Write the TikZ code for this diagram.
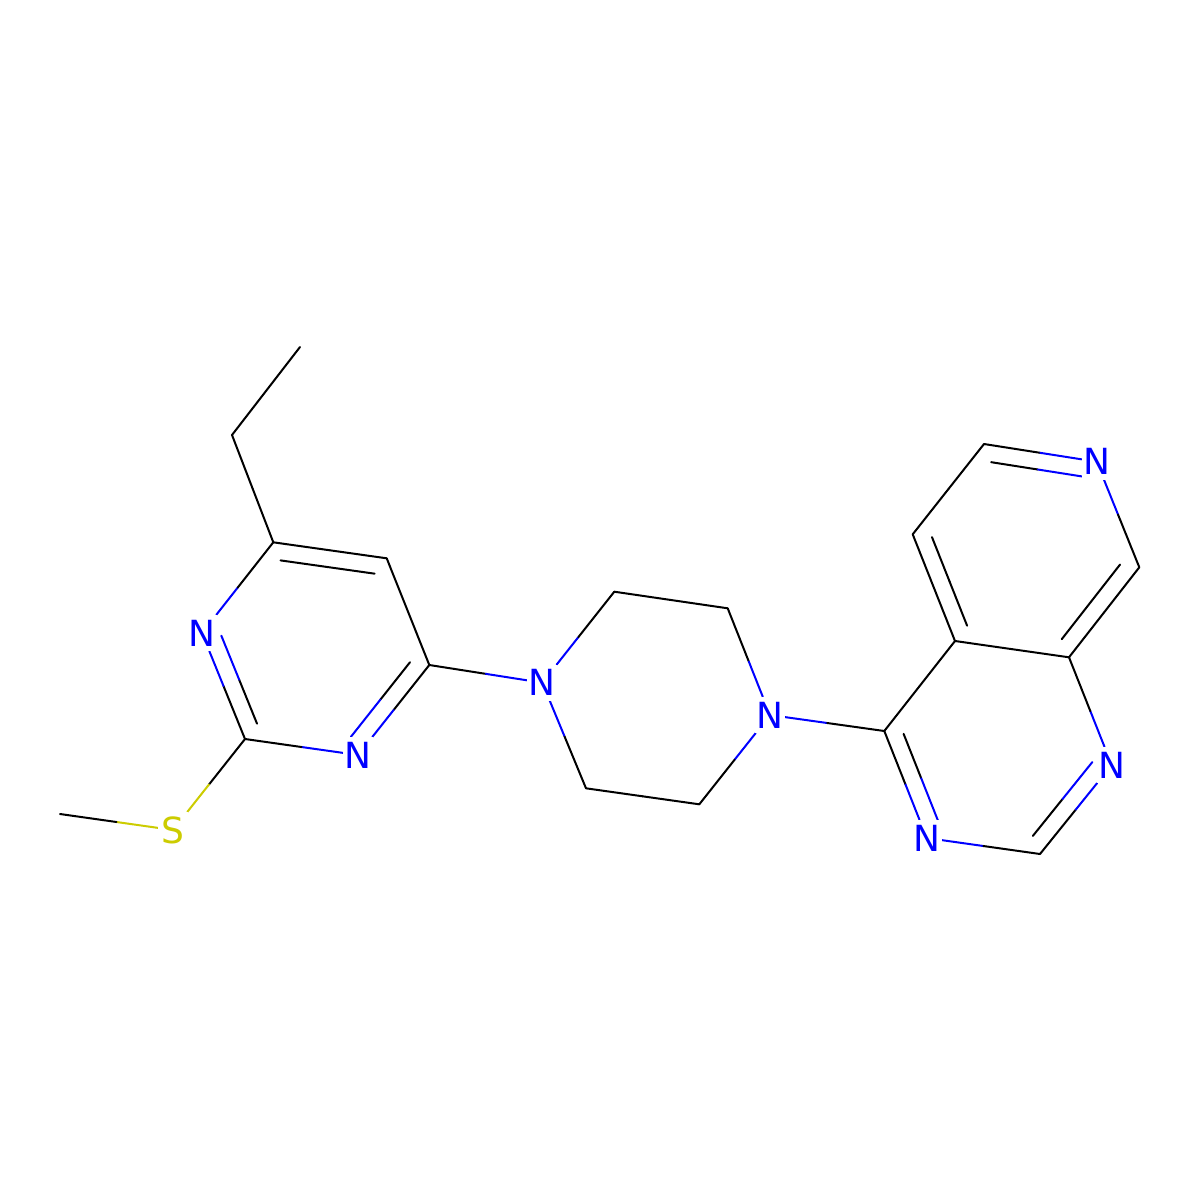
\documentclass[tikz,border=0pt]{standalone}
\usepackage{fontspec}
\setmainfont{DejaVu Sans}
\usetikzlibrary{calc}
\pgfdeclarelayer{bg}
\pgfsetlayers{bg,main}
\definecolor{nblue}{RGB}{0,0,255}
\definecolor{sylw}{RGB}{204,204,0}
\tikzset{
 atomlbl/.style={rectangle, fill=white, inner sep=0pt, minimum width=30pt, minimum height=36pt, font=\fontsize{36pt}{36pt}\selectfont},
 nlbl/.style={atomlbl, text=nblue},
 slbl/.style={atomlbl, text=sylw},
 bondln/.style={line width=2pt, line cap=round},
}
\newcommand\bnd[4]{%
 \draw[bondln,#2] (#1) -- ($(#1)!0.5!(#3)$);
 \draw[bondln,#4] ($(#1)!0.5!(#3)$) -- (#3);}
\newcommand\inb[5]{%
 \coordinate (ia) at ($(#1)!0.17!(#5)$);
 \coordinate (ib) at ($(#3)!0.17!(#5)$);
 \draw[bondln,#2] (ia) -- ($(ia)!0.5!(ib)$);
 \draw[bondln,#4] ($(ia)!0.5!(ib)$) -- (ib);}
\begin{document}
\begin{tikzpicture}[x=1pt,y=-1pt]
\useasboundingbox (0,0) rectangle (1200,1200);
% left pyrimidine
\coordinate (me1) at (300,347);
\coordinate (ch2) at (232,435);
\coordinate (a6) at (273.3,542.3);
\coordinate (a5) at (386.7,558.3);
\coordinate (a4) at (429.3,665);
\node[nlbl] (an3) at (358,755) {N};
\coordinate (a2) at (245,739);
\node[nlbl] (an1) at (202,633) {N};
\node[slbl] (s) at (173,830) {S};
\coordinate (me2) at (60,814);
\coordinate (cL) at (315.7,648.7);
% piperazine
\node[nlbl] (pn1) at (542.3,682.7) {N};
\coordinate (p2) at (614.3,591.7);
\coordinate (p3) at (727.7,608.3);
\node[nlbl] (pn4) at (770,715) {N};
\coordinate (p5) at (699.3,804.3);
\coordinate (p6) at (586,788.3);
% pyridopyrimidine
\coordinate (b4) at (884.3,731);
\node[nlbl] (bn3) at (926.7,838) {N};
\coordinate (b2) at (1040,854);
\node[nlbl] (bn1) at (1111.7,765) {N};
\coordinate (b8a) at (1069,657.3);
\coordinate (b4a) at (955,641);
\coordinate (b5) at (912.7,534.3);
\coordinate (b6) at (984,444);
\node[nlbl] (bn7) at (1096.7,461.7) {N};
\coordinate (b8) at (1139.3,567.3);
\coordinate (cR1) at (997.8,747.7);
\coordinate (cR2) at (1026.1,550.9);
\begin{pgfonlayer}{bg}
\fill[white] (0,0) rectangle (1200,1200);
% left ring
\bnd{me1}{black}{ch2}{black}
\bnd{ch2}{black}{a6}{black}
\bnd{a6}{black}{a5}{black}
\inb{a6}{black}{a5}{black}{cL}
\bnd{a5}{black}{a4}{black}
\bnd{a4}{black}{an3}{nblue}
\inb{a4}{black}{an3}{nblue}{cL}
\bnd{an3}{nblue}{a2}{black}
\bnd{a2}{black}{an1}{nblue}
\inb{a2}{black}{an1}{nblue}{cL}
\bnd{an1}{nblue}{a6}{black}
\bnd{a2}{black}{s}{sylw}
\bnd{s}{sylw}{me2}{black}
\bnd{a4}{black}{pn1}{nblue}
% piperazine
\bnd{pn1}{nblue}{p2}{black}
\bnd{p2}{black}{p3}{black}
\bnd{p3}{black}{pn4}{nblue}
\bnd{pn4}{nblue}{p5}{black}
\bnd{p5}{black}{p6}{black}
\bnd{p6}{black}{pn1}{nblue}
\bnd{pn4}{nblue}{b4}{black}
% right rings
\bnd{b4}{black}{bn3}{nblue}
\inb{b4}{black}{bn3}{nblue}{cR1}
\bnd{bn3}{nblue}{b2}{black}
\bnd{b2}{black}{bn1}{nblue}
\inb{b2}{black}{bn1}{nblue}{cR1}
\bnd{bn1}{nblue}{b8a}{black}
\bnd{b8a}{black}{b4a}{black}
\bnd{b4a}{black}{b4}{black}
\bnd{b4a}{black}{b5}{black}
\inb{b4a}{black}{b5}{black}{cR2}
\bnd{b5}{black}{b6}{black}
\bnd{b6}{black}{bn7}{nblue}
\inb{b6}{black}{bn7}{nblue}{cR2}
\bnd{bn7}{nblue}{b8}{black}
\bnd{b8}{black}{b8a}{black}
\inb{b8}{black}{b8a}{black}{cR2}
\end{pgfonlayer}
\end{tikzpicture}
\end{document}
